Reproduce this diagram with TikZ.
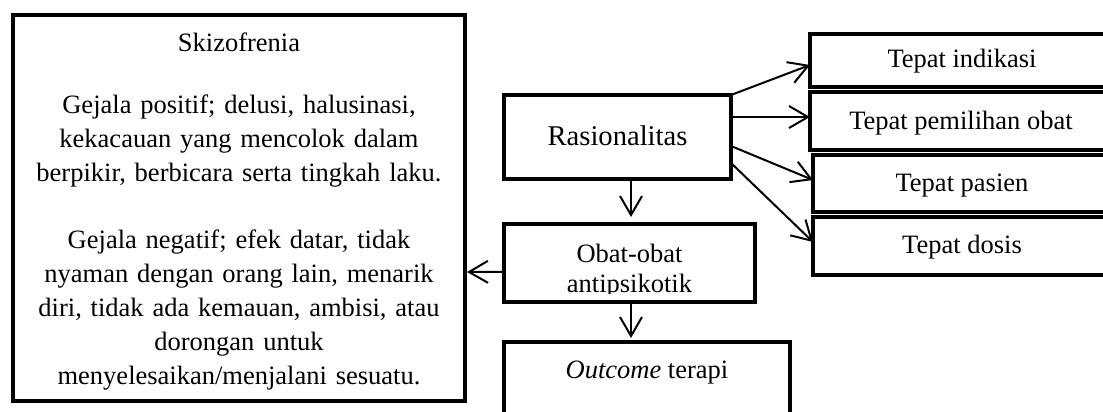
\documentclass[tikz,border=0pt]{standalone}
\usepackage{fontspec}
\setmainfont{Liberation Serif}
\usetikzlibrary{arrows.meta}
\begin{document}
\begin{tikzpicture}[x=1pt,y=-1pt,
  box/.style={draw=black, line width=4pt, inner sep=0pt, outer sep=0pt, fill=white},
  txt/.style={inner sep=0pt, outer sep=0pt, anchor=base, font=\fontsize{26.5}{34}\selectfont},
  smalltxt/.style={inner sep=0pt, outer sep=0pt, anchor=base, font=\fontsize{26.5}{30}\selectfont},
  arr/.style={draw=black, line width=2pt, -{Straight Barb[length=19pt,width=22pt]}}]
\useasboundingbox (0,0) rectangle (1103,412);
\fill[white] (0,0) rectangle (1103,412);
\clip (0,0) rectangle (1103,412);
% left box
\node[box, minimum width=452pt, minimum height=386pt] (skz) at (239,208) {};
\node[txt] (t0) at (239,52) {Skizofrenia};
\node[txt, text width=445pt, align=center] (p1) at (239,113) {Gejala positif; delusi, halusinasi,\\ kekacauan yang mencolok dalam\\ berpikir, berbicara serta tingkah laku.};
\node[txt, text width=445pt, align=center] (p2) at (239,248) {Gejala negatif; efek datar, tidak\\ nyaman dengan orang lain, menarik\\ diri, tidak ada kemauan, ambisi, atau\\ dorongan untuk\\ menyelesaikan/menjalani sesuatu.};
% middle column
\node[box, minimum width=227pt, minimum height=84pt] (ras) at (617.5,137) {};
\node[txt, font=\fontsize{28.6}{34}\selectfont] (rt) at (617.5,145) {Rasionalitas};
\node[box, minimum width=251pt, minimum height=77.5pt] (obat) at (629.5,262.75) {};
\begin{scope}
\clip (506,226) rectangle (753,293);
\node[txt, text width=245pt, align=center] (ot) at (629.5,262) {Obat-obat\\[-4pt] antipsikotik};
\end{scope}
\node[box, minimum width=285.5pt, minimum height=98.5pt] (out) at (646.75,390.75) {};
\node[txt] (outt) at (647,378) {\textit{Outcome} terapi};
% right column
\node[box, minimum width=304pt, minimum height=53pt] (b1) at (962,60.5) {};
\node[smalltxt] (b1t) at (962,68) {Tepat indikasi};
\node[box, minimum width=304pt, minimum height=58pt] (b2) at (962,121) {};
\node[smalltxt] (b2t) at (961,129) {Tepat pemilihan obat};
\node[box, minimum width=301pt, minimum height=57pt] (b3) at (963.5,183.5) {};
\node[smalltxt] (b3t) at (962,191) {Tepat pasien};
\node[box, minimum width=301pt, minimum height=58pt] (b4) at (963.5,246) {};
\node[smalltxt] (b4t) at (962,253) {Tepat dosis};
% connectors
\draw[arr] (ras.north east) -- ([yshift=-4.5pt]b1.west);
\draw[arr] ([yshift=20pt]ras.east) -- ([yshift=4pt]b2.west);
\draw[arr] ([yshift=-9pt]ras.east) -- ([yshift=3.5pt]b3.west);
\draw[arr] ([yshift=-26pt]ras.east) -- ([yshift=4pt]b4.west);
\draw[arr] ([xshift=13.5pt]ras.south) -- ([xshift=1.5pt,yshift=7pt]obat.north);
\draw[arr] ([xshift=1.5pt]obat.south) -- ([xshift=-15.75pt,yshift=3.5pt]out.north);
\draw[arr] ([yshift=-9pt]obat.west) -- ([xshift=2pt,yshift=-64pt]skz.east);
\end{tikzpicture}
\end{document}
